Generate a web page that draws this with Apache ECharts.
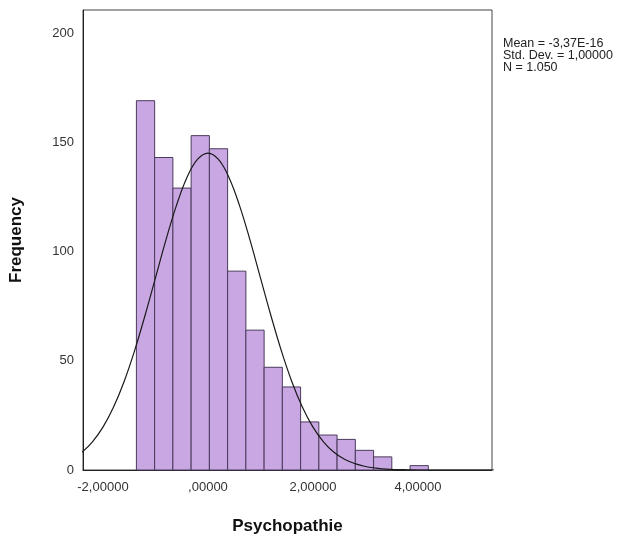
<!DOCTYPE html>
<html>
<head>
<meta charset="utf-8">
<script src="https://cdn.jsdelivr.net/npm/echarts@6/dist/echarts.min.js"></script>
<style>html,body{margin:0;padding:0;background:#fff}#c{width:631px;height:540px}</style>
</head>
<body>
<div id="c"></div>
<script>
// Histogram data
const binStart = -1.363;
const binWidth = 0.3475;
const counts = [169, 143, 129, 153, 147, 91, 64, 47, 38, 22, 16, 14, 9, 6, 0, 2];
// Normal curve points
const curveX = [-2.4,-2.2,-2.0,-1.8,-1.6,-1.4,-1.2,-1.0,-0.8,-0.6,-0.4,-0.2,0,0.2,0.4,0.6,0.8,1.0,1.2,1.4,1.6,1.8,2.0,2.2,2.4,2.6,2.8,3.0,3.2,3.4,3.6,3.8,4.0,4.5,5.0,5.5];
const curveY = [8.1,12.9,19.6,28.7,40.3,54.4,70.6,87.9,105.3,121.1,133.9,142.1,145,142.1,133.9,121.1,105.3,87.9,70.6,54.4,40.3,28.7,19.6,12.9,8.1,4.9,2.9,1.6,0.9,0.4,0.2,0.1,0,0,0,0];
// Axis ticks
const xTickValues = [-2, 0, 2, 4];
const xTickLabels = ['-2,00000', ',00000', '2,00000', '4,00000'];
const yTickValues = [0, 50, 100, 150, 200];
const statsLines = ['Mean = -3,37E-16', 'Std. Dev. = 1,00000', 'N = 1.050'];

const histData = counts.map((c, i) => [binStart + i * binWidth, binStart + (i + 1) * binWidth, c]);
const curveData = curveX.map((x, i) => [x, curveY[i]]);

const chart = echarts.init(document.getElementById('c'), null, {renderer: 'canvas'});
const font = 'Arial, "Liberation Sans", sans-serif';
chart.setOption({
  backgroundColor: '#fff',
  animation: false,
  grid: {left: 83, right: 139, top: 10, bottom: 67, show: true, borderColor: '#444', borderWidth: 1, backgroundColor: '#fff'},
  xAxis: {
    type: 'value', min: -2.38, max: 5.41,
    name: 'Psychopathie', nameLocation: 'middle', nameGap: 48,
    nameTextStyle: {fontFamily: font, fontSize: 17, fontWeight: 'bold', color: '#111'},
    axisLine: {show: true, onZero: false, lineStyle: {color: '#222', width: 1}},
    axisTick: {show: false},
    splitLine: {show: false},
    axisLabel: {
      customValues: xTickValues, margin: 11,
      fontFamily: font, fontSize: 13, color: '#333',
      formatter: v => { const i = xTickValues.indexOf(v); return i >= 0 ? xTickLabels[i] : ''; }
    }
  },
  yAxis: {
    type: 'value', min: 0, max: 210.5,
    name: 'Frequency', nameLocation: 'middle', nameGap: 58,
    nameTextStyle: {fontFamily: font, fontSize: 17, fontWeight: 'bold', color: '#111'},
    axisLine: {show: true, onZero: false, lineStyle: {color: '#222', width: 1}},
    axisTick: {show: false},
    splitLine: {show: false},
    axisLabel: {customValues: yTickValues, margin: 9, fontFamily: font, fontSize: 13, color: '#333'}
  },
  series: [
    {
      type: 'custom',
      data: histData,
      encode: {x: [0, 1], y: 2},
      renderItem: function (params, api) {
        const c = api.value(2);
        if (!c) return null;
        const p0 = api.coord([api.value(0), 0]);
        const p1 = api.coord([api.value(1), c]);
        return {
          type: 'rect',
          shape: {x: p0[0], y: p1[1], width: p1[0] - p0[0], height: p0[1] - p1[1]},
          style: {fill: '#c9a7e3', stroke: '#4b3a5c', lineWidth: 1}
        };
      },
      z: 2
    },
    {
      type: 'line',
      data: curveData,
      showSymbol: false,
      smooth: 0.4,
      lineStyle: {color: '#1a1a1a', width: 1.2},
      z: 3
    }
  ],
  graphic: statsLines.map((t, i) => ({
    type: 'text', left: 503, top: 37 + i * 12,
    style: {text: t, fontFamily: font, fontSize: 12.5, fill: '#222'}
  }))
});
</script>
</body>
</html>
